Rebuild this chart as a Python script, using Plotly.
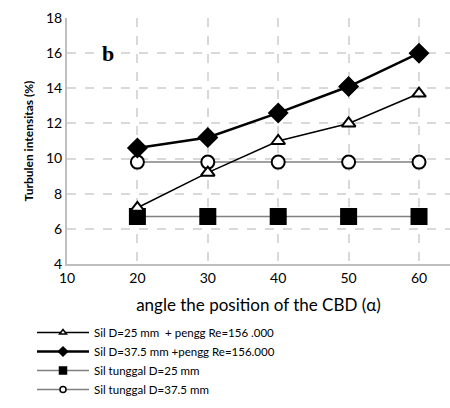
import plotly.graph_objects as go

angles = [20, 30, 40, 50, 60]
sil25_pengg = [7.2, 9.2, 11.0, 12.0, 13.7]
sil375_pengg = [10.6, 11.2, 12.6, 14.1, 16.0]
tunggal25 = [6.7, 6.7, 6.7, 6.7, 6.7]
tunggal375 = [9.8, 9.8, 9.8, 9.8, 9.8]

names = [
    "Sil D=25 mm  + pengg Re=156 .000",
    "Sil D=37.5 mm +pengg Re=156.000",
    "Sil tunggal D=25 mm",
    "Sil tunggal D=37.5 mm",
]
x_ticks = [10, 20, 30, 40, 50, 60]
y_ticks = [4, 6, 8, 10, 12, 14, 16, 18]

styles = {
    names[0]: dict(line=dict(color="black", width=1.5), sym="triangle-up", fill="white", size=12, lsize=6),
    names[1]: dict(line=dict(color="black", width=2.5), sym="diamond", fill="black", size=14, lsize=7),
    names[2]: dict(line=dict(color="#808080", width=1.5), sym="square", fill="black", size=15, lsize=7),
    names[3]: dict(line=dict(color="#808080", width=1.5), sym="circle", fill="white", size=13, lsize=6),
}
series = [(names[2], tunggal25), (names[3], tunggal375), (names[0], sil25_pengg), (names[1], sil375_pengg)]

fig = go.Figure()
for nm, ys in series:
    s = styles[nm]
    fig.add_trace(go.Scatter(x=angles, y=ys, name=nm, mode="lines+markers", showlegend=False,
                             line=s["line"],
                             marker=dict(symbol=s["sym"], size=s["size"], color=s["fill"],
                                         line=dict(color="black", width=2))))
# legend entries (smaller markers, as in the reference legend)
for rank, nm in enumerate(names):
    s = styles[nm]
    fig.add_trace(go.Scatter(x=[None], y=[None], name=nm, mode="lines+markers",
                             line=s["line"], legendrank=rank + 1,
                             marker=dict(symbol=s["sym"], size=s["lsize"], color=s["fill"],
                                         line=dict(color="black", width=1.5))))

fig.add_annotation(x=15.8, y=16, text="<b>b</b>", showarrow=False,
                   font=dict(family="Liberation Serif", size=22, color="black"),
                   xref="x", yref="y")

plot_w = 450 - 67
plot_h = 408 - 18 - 144

fig.update_layout(
    width=450, height=408,
    margin=dict(l=67, r=0, t=18, b=144, autoexpand=False),
    paper_bgcolor="white", plot_bgcolor="white",
    font=dict(family="Lato", color="black"),
    showlegend=True,
    legend=dict(x=(32 - 67) / plot_w, y=(408 - 144 - 318) / plot_h,
                xanchor="left", yanchor="top",
                font=dict(size=11.5, family="Lato"),
                itemwidth=52, tracegroupgap=0, bgcolor="rgba(0,0,0,0)"),
    xaxis=dict(range=[10, 64.4], tickvals=x_ticks, ticks="",
               showline=True, linecolor="#bfbfbf", linewidth=2,
               showgrid=True, gridcolor="#d9d9d9", griddash="dash", gridwidth=1.5,
               zeroline=False, tickfont=dict(size=14),
               title=dict(text="angle the position of the CBD (α)",
                          font=dict(size=17), standoff=14)),
    yaxis=dict(range=[4, 18], tickvals=y_ticks, ticks="",
               showline=True, linecolor="#bfbfbf", linewidth=2,
               showgrid=True, gridcolor="#d9d9d9", griddash="dash", gridwidth=1.5,
               zeroline=False, tickfont=dict(size=14),
               title=dict(text="<b>Turbulen intensitas (%)</b>",
                          font=dict(size=12), standoff=10)),
)

fig.write_html("out.html")
